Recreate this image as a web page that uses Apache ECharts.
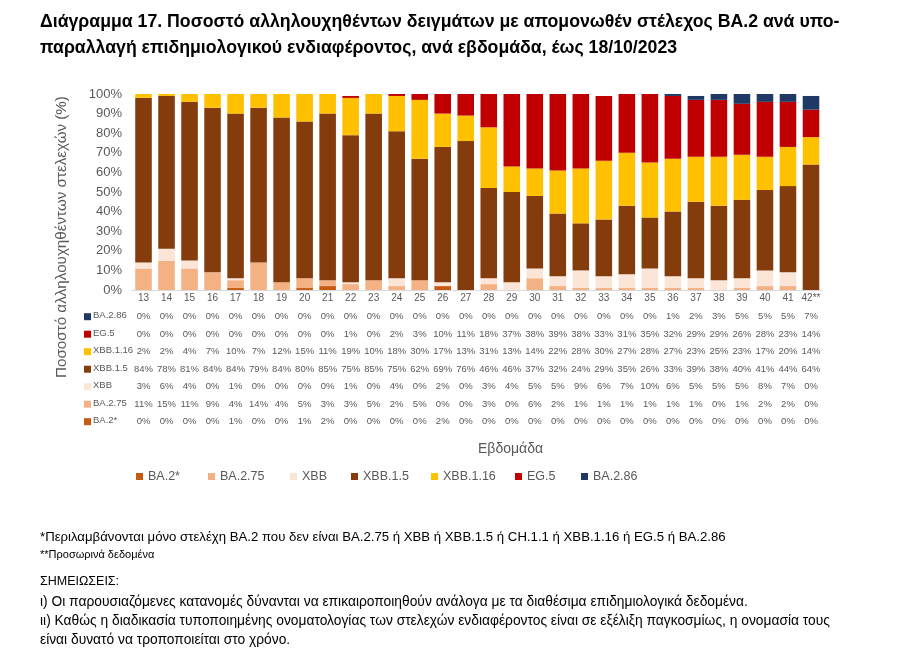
<!DOCTYPE html>
<html>
<head>
<meta charset="utf-8">
<script src="https://cdn.jsdelivr.net/npm/echarts@6/dist/echarts.min.js"></script>
<style>
html,body{margin:0;padding:0;background:#fff;}
#c{width:900px;height:665px;}
</style>
</head>
<body>
<div id="c"></div>
<script>
var weeks = ['13','14','15','16','17','18','19','20','21','22','23','24','25','26','27','28','29','30','31','32','33','34','35','36','37','38','39','40','41','42**'];
var BA2     = [0,0,0,0,1,0,0,1,2,0,0,0,0,2,0, 0,0,0,0,0,0,0,0,0,0,0,0,0,0,0];
var BA275   = [11,15,11,9,4,14,4,5,3,3,5,2,5,0,0, 3,0,6,2,1,1,1,1,1,1,0,1,2,2,0];
var XBB     = [3,6,4,0,1,0,0,0,0,1,0,4,0,2,0, 3,4,5,5,9,6,7,10,6,5,5,5,8,7,0];
var XBB15   = [84,78,81,84,84,79,84,80,85,75,85,75,62,69,76, 46,46,37,32,24,29,35,26,33,39,38,40,41,44,64];
var XBB116  = [2,2,4,7,10,7,12,15,11,19,10,18,30,17,13, 31,13,14,22,28,30,27,28,27,23,25,23,17,20,14];
var EG5     = [0,0,0,0,0,0,0,0,0,1,0,2,3,10,11, 18,37,38,39,38,33,31,35,32,29,29,26,28,23,14];
var BA286   = [0,0,0,0,0,0,0,0,0,0,0,0,0,0,0, 0,0,0,0,0,0,0,0,1,2,3,5,5,5,7];
var names   = ['BA.2*','BA.2.75','XBB','XBB.1.5','XBB.1.16','EG.5','BA.2.86'];
var colors  = ['#C55A11','#F4B183','#FBE5D6','#843C0C','#FFC000','#C00000','#203864'];
var seriesData = [BA2, BA275, XBB, XBB15, XBB116, EG5, BA286];
var yTicks = [0,10,20,30,40,50,60,70,80,90,100];

var FONT = "'Liberation Sans', Arial, sans-serif";
var GRAY = '#595959';

var tableOrder = [6,5,4,3,2,1,0];
var legendLeft = [136,208,290,351,431,515,581];

var xAxes = [{
  type:'category', data: weeks, gridIndex:0, position:'bottom',
  axisLine:{show:true, lineStyle:{color:'#D9D9D9'}},
  axisTick:{show:false},
  axisLabel:{interval:0, margin:2, fontSize:10, lineHeight:12, color:GRAY, fontFamily:FONT}
}];
var graphics = [];
tableOrder.forEach(function(si, r){
  var vals = seriesData[si];
  xAxes.push({
    type:'category', data: weeks, gridIndex:0, position:'bottom', offset: 20.7 + 17.5*r,
    axisLine:{show:false}, axisTick:{show:false}, splitLine:{show:false},
    axisLabel:{interval:0, margin:0, fontSize:9.5, lineHeight:12, color:GRAY, fontFamily:FONT,
      formatter:(function(v){ return function(value, idx){ return v[idx] + '%'; }; })(vals)}
  });
  var cy = 316.7 + 17.5*r;
  graphics.push({type:'rect', left:84, top:cy-3.5, shape:{width:7,height:7}, style:{fill:colors[si]}});
  graphics.push({type:'text', left:93, top:cy-6, style:{text:names[si], font:'9.5px ' + FONT, fill:GRAY}});
});

graphics.push({type:'text', left:40, top:9, style:{text:'Διάγραμμα 17. Ποσοστό αλληλουχηθέντων δειγμάτων με απομονωθέν στέλεχος BA.2 ανά υπο-\nπαραλλαγή επιδημιολογικού ενδιαφέροντος, ανά εβδομάδα, έως 18/10/2023', font:'bold 17.7px ' + FONT, fill:'#000', lineHeight:26}});
graphics.push({type:'text', left:478, top:442, style:{text:'Εβδομάδα', font:'14px ' + FONT, fill:GRAY, align:'center', verticalAlign:'middle'}});
graphics.push({type:'text', x:62, y:237, rotation:Math.PI/2, style:{text:'Ποσοστό αλληλουχηθέντων στελεχών (%)', font:'15.2px ' + FONT, fill:GRAY, align:'center', verticalAlign:'middle'}});
graphics.push({type:'text', left:40, top:531, style:{text:'*Περιλαμβάνονται μόνο στελέχη BA.2 που δεν είναι BA.2.75 ή XBB ή XBB.1.5 ή CH.1.1 ή XBB.1.16 ή EG.5 ή BA.2.86', font:'13.2px ' + FONT, fill:'#000'}});
graphics.push({type:'text', left:40, top:549, style:{text:'**Προσωρινά δεδομένα', font:'11px ' + FONT, fill:'#000'}});
graphics.push({type:'text', left:40, top:575, style:{text:'ΣΗΜΕΙΩΣΕΙΣ:', font:'12.5px ' + FONT, fill:'#000'}});
graphics.push({type:'text', left:40, top:595, style:{text:'ι) Οι παρουσιαζόμενες κατανομές δύνανται να επικαιροποιηθούν ανάλογα με τα διαθέσιμα επιδημιολογικά δεδομένα.', font:'13.8px ' + FONT, fill:'#000'}});
graphics.push({type:'text', left:40, top:614, style:{text:'ιι) Καθώς η διαδικασία τυποποιημένης ονοματολογίας των στελεχών ενδιαφέροντος είναι σε εξέλιξη παγκοσμίως, η ονομασία τους', font:'13.8px ' + FONT, fill:'#000'}});
graphics.push({type:'text', left:40, top:633, style:{text:'είναι δυνατό να τροποποιείται στο χρόνο.', font:'13.8px ' + FONT, fill:'#000'}});

var series = seriesData.map(function(d, i){
  return {name:names[i], type:'bar', stack:'total', xAxisIndex:0, yAxisIndex:0, data:d,
    barWidth:'72%', itemStyle:{color:colors[i]}, emphasis:{disabled:true}};
});

var legends = names.map(function(n, i){
  return {data:[n], left:legendLeft[i], top:470, padding:0, itemWidth:7, itemHeight:7, itemGap:0, icon:'rect',
    selectedMode:false, textStyle:{fontSize:12.5, color:GRAY, fontFamily:FONT}};
});

var chart = echarts.init(document.getElementById('c'), null, {renderer:'canvas'});
chart.setOption({
  animation:false,
  backgroundColor:'#fff',
  textStyle:{fontFamily:FONT},
  grid:{left:132, right:77.5, top:94, bottom:375, containLabel:false},
  legend: legends,
  xAxis: xAxes,
  yAxis:{type:'value', min:yTicks[0], max:yTicks[yTicks.length-1], interval:10,
    axisLine:{show:false}, axisTick:{show:false}, splitLine:{show:false},
    axisLabel:{formatter:'{value}%', fontSize:13, color:GRAY, margin:10, fontFamily:FONT}},
  series: series,
  graphic: graphics
});
</script>
</body>
</html>
